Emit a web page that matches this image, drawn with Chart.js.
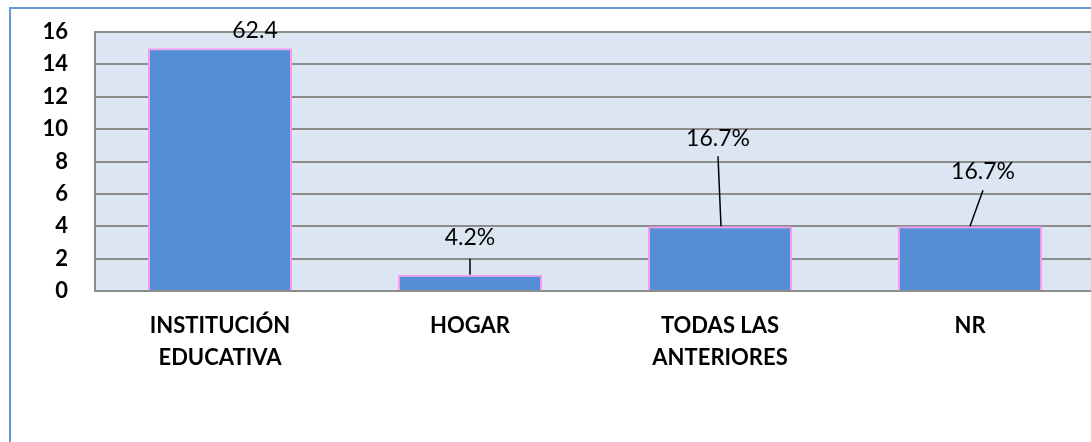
<!DOCTYPE html>
<html>
<head>
<meta charset="utf-8">
<script src="https://cdn.jsdelivr.net/npm/chart.js@4.4.0/dist/chart.umd.min.js"></script>
<style>
    html, body { margin: 0; padding: 0; background: #fff; overflow: hidden; }
    #wrap { position: relative; width: 1091px; height: 442px; overflow: hidden; }
    canvas { position: absolute; left: 0; top: 0; }
</style>
</head>
<body>
<div id="wrap"><canvas id="chart" width="1100" height="442"></canvas></div>
<script>
// Chart data
const categories = [['INSTITUCIÓN', 'EDUCATIVA'], 'HOGAR', ['TODAS LAS', 'ANTERIORES'], 'NR'];
const counts = [15, 1, 4, 4];
const pointLabels = ['62.4', '4.2%', '16.7%', '16.7%'];
const yTicks = [0, 2, 4, 6, 8, 10, 12, 14, 16];

// where each label sits relative to its bar top (px), and its leader line
const labelLayout = [
    {dx: 35, dy: -18, line: null},
    {dx: 0, dy: -37, line: [0, -16, 0, 0]},
    {dx: -2, dy: -88, line: [-2, -70, 1, 0]},
    {dx: 13, dy: -55, line: [13, -36, 0, 0]}
];

const FONT = 'Lato, "Open Sans", sans-serif';

// plot background + outer frame
const plotBg = {
    id: 'plotBg',
    beforeDraw(chart) {
        const {ctx, chartArea} = chart;
        ctx.save();
        ctx.fillStyle = '#dce6f2';
        ctx.fillRect(chartArea.left, chartArea.top, chartArea.right - chartArea.left, chartArea.bottom - chartArea.top);
        ctx.restore();
    },
    afterDraw(chart) {
        const ctx = chart.ctx;
        ctx.save();
        ctx.strokeStyle = '#6a96d2';
        ctx.lineWidth = 2;
        ctx.beginPath();
        ctx.moveTo(10, 442);
        ctx.lineTo(10, 8);
        ctx.lineTo(1100, 8);
        ctx.stroke();
        ctx.restore();
    }
};

// value labels with leader lines
const barLabels = {
    id: 'barLabels',
    afterDatasetsDraw(chart) {
        const ctx = chart.ctx;
        const meta = chart.getDatasetMeta(0);
        ctx.save();
        ctx.font = '23px ' + FONT;
        ctx.fillStyle = '#000';
        ctx.textAlign = 'center';
        ctx.textBaseline = 'middle';
        meta.data.forEach((bar, i) => {
            const lay = labelLayout[i];
            ctx.fillText(pointLabels[i], bar.x + lay.dx, bar.y + lay.dy);
            if (lay.line) {
                ctx.strokeStyle = '#000';
                ctx.lineWidth = 1.5;
                ctx.beginPath();
                ctx.moveTo(bar.x + lay.line[0], bar.y + lay.line[1]);
                ctx.lineTo(bar.x + lay.line[2], bar.y + lay.line[3]);
                ctx.stroke();
            }
        });
        ctx.restore();
    }
};

new Chart(document.getElementById('chart'), {
    type: 'bar',
    data: {
        labels: categories,
        datasets: [{
            data: counts,
            backgroundColor: '#558ed5',
            borderColor: '#f59cf0',
            borderWidth: 2,
            barPercentage: 0.576,
            categoryPercentage: 1
        }]
    },
    options: {
        responsive: false,
        animation: false,
        layout: {padding: {left: 0, top: 32, right: 5, bottom: 0}},
        plugins: {legend: {display: false}, tooltip: {enabled: false}},
        scales: {
            x: {
                afterFit(scale) { scale.height = 151; scale.paddingLeft = 0; scale.paddingRight = 0; },
                grid: {display: false, drawTicks: false},
                border: {display: true, color: '#8c8c8c', width: 2},
                ticks: {
                    color: '#000',
                    padding: 19,
                    maxRotation: 0,
                    font: {family: FONT, size: 22, weight: 'bold', lineHeight: 1.45}
                }
            },
            y: {
                min: 0,
                max: 16,
                afterFit(scale) { scale.width = 95; scale.paddingTop = 0; scale.paddingBottom = 0; },
                afterBuildTicks(scale) { scale.ticks = yTicks.map(v => ({value: v})); },
                grid: {color: '#8c8c8c', lineWidth: 2, drawTicks: false},
                border: {display: true, color: '#8c8c8c', width: 2},
                ticks: {
                    color: '#000',
                    padding: 27,
                    font: {family: FONT, size: 22, weight: 'bold'}
                }
            }
        }
    },
    plugins: [plotBg, barLabels]
});
</script>
</body>
</html>
